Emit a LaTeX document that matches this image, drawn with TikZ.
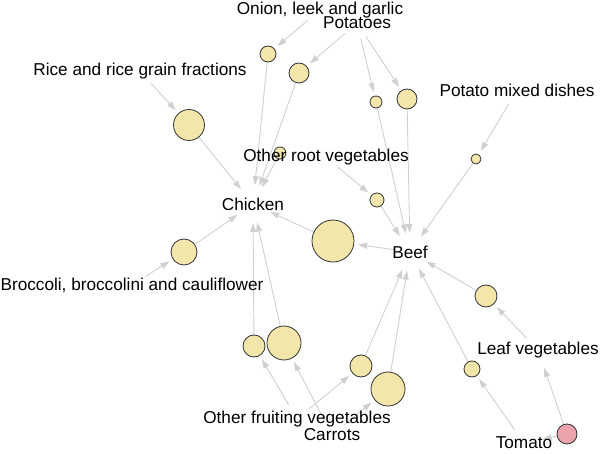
\documentclass[tikz,border=0pt]{standalone}
\usepackage{fontspec}
\setmainfont{Liberation Sans}
\usetikzlibrary{arrows.meta}
\pgfdeclarelayer{background}
\pgfsetlayers{background,main}
\definecolor{dishfill}{HTML}{F2E6AA}
\definecolor{tomatofill}{HTML}{EBA3AC}
\definecolor{rimgray}{HTML}{333333}
\definecolor{linkgray}{HTML}{D0D0D0}

\begin{document}
\begin{tikzpicture}[x=1pt,y=-1pt,
    link/.style={color=linkgray,line width=0.9pt,-{Triangle[length=9pt,width=6pt]},shorten >=4pt},
    from label/.style={shorten <=16pt},
    to label/.style={shorten >=19pt},
    main node/.style={circle,draw=rimgray,fill=dishfill,line width=0.8pt,inner sep=0pt},
    food label/.style={font=\fontsize{17.2}{20}\selectfont,inner sep=1pt}]

    \useasboundingbox (0,0) rectangle (600,454);

    % circles
    \node[main node,minimum size=16pt] (1) at (268,54) {};
    \node[main node,minimum size=20pt] (2) at (299,73) {};
    \node[main node,minimum size=31pt] (3) at (189,125) {};
    \node[main node,minimum size=12pt] (4) at (376,102) {};
    \node[main node,minimum size=20pt] (5) at (407,99) {};
    \node[main node,minimum size=10pt] (6) at (476,159) {};
    \node[main node,minimum size=12pt] (7) at (280,153) {};
    \node[main node,minimum size=14pt] (8) at (377,200) {};
    \node[main node,minimum size=42pt] (9) at (333,241) {};
    \node[main node,minimum size=26pt] (10) at (184,252) {};
    \node[main node,minimum size=22pt] (11) at (254,346) {};
    \node[main node,minimum size=34pt] (12) at (284,343) {};
    \node[main node,minimum size=22pt] (13) at (361,366) {};
    \node[main node,minimum size=34pt] (14) at (388,389) {};
    \node[main node,minimum size=22pt] (15) at (486,296) {};
    \node[main node,minimum size=16pt] (16) at (472,369) {};
    \node[main node,fill=tomatofill,minimum size=20pt] (17) at (567,434) {};

    % labels
    \node[food label] (onion) at (320,10) {Onion, leek and garlic};
    \node[food label] (potatoes) at (357,23) {Potatoes};
    \node[food label] (rice) at (140,71) {Rice and rice grain fractions};
    \node[food label] (mixed) at (517,90) {Potato mixed dishes};
    \node[food label] (root) at (326,157) {Other root vegetables};
    \node[food label] (chicken) at (253,204) {Chicken};
    \node[food label] (beef) at (410,252) {Beef};
    \node[food label] (broccoli) at (132,285) {Broccoli, broccolini and cauliflower};
    \node[food label] (leaf) at (538,350) {Leaf vegetables};
    \node[food label] (fruiting) at (297,419) {Other fruiting vegetables};
    \node[food label] (carrots) at (332,435) {Carrots};
    \node[food label] (tomato) at (524,443) {Tomato};

    \begin{pgfonlayer}{background}
    \path[link]
      (onion.center) edge[from label] (1)
      (potatoes.center) edge[from label] (2)
      (potatoes.center) edge[from label] (4)
      (potatoes.center) edge[from label] (5)
      (rice.center) edge[from label] (3)
      (mixed.center) edge[from label] (6)
      (root.center) edge[from label] (8)
      (broccoli.center) edge[from label] (10)
      (fruiting.center) edge[from label] (11)
      (fruiting.center) edge[from label] (13)
      (carrots.center) edge[from label] (12)
      (carrots.center) edge[from label] (14)
      (leaf.center) edge[from label] (15)
      (tomato.center) edge[from label] (16)
      (beef.center) edge[from label] (9);
    \path[link]
      (1) edge[to label] (chicken.center)
      (2) edge[to label] (chicken.center)
      (3) edge[to label] (chicken.center)
      (7) edge[to label] (chicken.center)
      (9) edge[to label] (chicken.center)
      (10) edge[to label] (chicken.center)
      (11) edge[to label] (chicken.center)
      (12) edge[to label] (chicken.center)
      (4) edge[to label] (beef.center)
      (5) edge[to label] (beef.center)
      (6) edge[to label] (beef.center)
      (8) edge[to label] (beef.center)
      (13) edge[to label] (beef.center)
      (14) edge[to label] (beef.center)
      (15) edge[to label] (beef.center)
      (16) edge[to label] (beef.center)
      (17) edge[to label] (tomato.center)
      (17) edge[to label] (leaf.center);
    \end{pgfonlayer}
\end{tikzpicture}
\end{document}
